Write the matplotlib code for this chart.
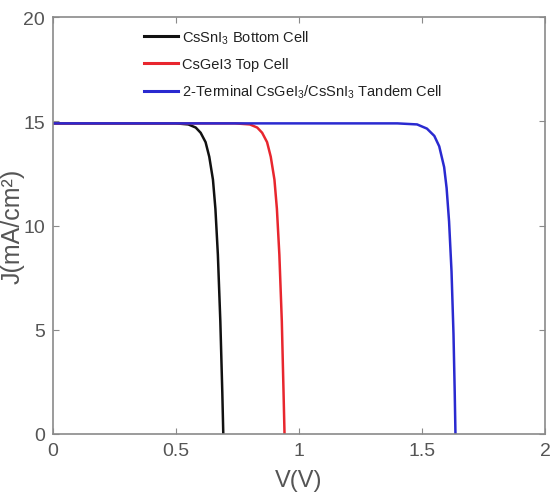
import matplotlib.pyplot as plt

plt.rcParams['font.family'] = ['Liberation Sans', 'DejaVu Sans']
plt.rcParams['mathtext.fontset'] = 'custom'
plt.rcParams['mathtext.rm'] = 'Liberation Sans'
plt.rcParams['mathtext.it'] = 'Liberation Sans'

# J-V points for each cell (V in volts, J in mA/cm^2)
v_bottom = [0.0, 0.50, 0.55, 0.58, 0.60, 0.62, 0.635, 0.65, 0.66, 0.67, 0.68, 0.688, 0.692]
j_bottom = [14.9, 14.9, 14.85, 14.7, 14.45, 14.0, 13.3, 12.2, 10.8, 8.6, 5.4, 2.0, 0.0]

v_top = [0.0, 0.74, 0.80, 0.83, 0.85, 0.87, 0.885, 0.90, 0.91, 0.92, 0.93, 0.937, 0.941]
j_top = [14.9, 14.9, 14.85, 14.7, 14.45, 14.0, 13.3, 12.2, 10.8, 8.6, 5.4, 2.0, 0.0]

v_tandem = [0.0, 1.40, 1.48, 1.52, 1.55, 1.57, 1.59, 1.60, 1.61, 1.62, 1.628, 1.633, 1.636]
j_tandem = [14.9, 14.9, 14.85, 14.65, 14.3, 13.8, 12.8, 11.8, 10.2, 7.8, 4.8, 2.0, 0.0]

labels = ['CsSnI$_3$ Bottom Cell', 'CsGeI3 Top Cell',
          '2-Terminal CsGeI$_3$/CsSnI$_3$ Tandem Cell']

grey = '#555555'

fig = plt.figure(figsize=(5.53, 5.02), dpi=100)
ax = fig.add_axes([0.096, 0.1335, 0.8895, 0.8305])

ax.plot(v_bottom, j_bottom, color='#111111', lw=1.8, label=labels[0])
ax.plot(v_top, j_top, color='#e8262e', lw=1.8, label=labels[1])
ax.plot(v_tandem, j_tandem, color='#2a2ad0', lw=1.8, label=labels[2])

ax.set_xlim(0, 2)
ax.set_ylim(0, 20)
ax.set_xticks([0, 0.5, 1, 1.5, 2])
ax.set_xticklabels(['0', '0.5', '1', '1.5', '2'])
ax.set_yticks([0, 5, 10, 15, 20])

for s in ax.spines.values():
    s.set_color('#8a8a8a')
    s.set_linewidth(1.2)
ax.tick_params(direction='in', top=True, right=True, length=4, width=0.8,
               colors='#8a8a8a', labelcolor=grey, labelsize=14, pad=6)

ax.set_xlabel('V(V)', fontsize=17, color=grey, labelpad=7)
ax.set_ylabel('J(mA/cm²)', fontsize=18, color=grey)
ax.yaxis.set_label_coords(-0.058, 0.5)

leg = ax.legend(loc='upper left', bbox_to_anchor=(0.185, 0.973), frameon=False,
                fontsize=10.5, handlelength=2.3, handletextpad=0.3,
                labelspacing=0.8, borderpad=0, borderaxespad=0)
for t in leg.get_texts():
    t.set_color('#222222')
for h in leg.get_lines():
    h.set_linewidth(2.2)

fig.savefig('out.png', dpi=100)
